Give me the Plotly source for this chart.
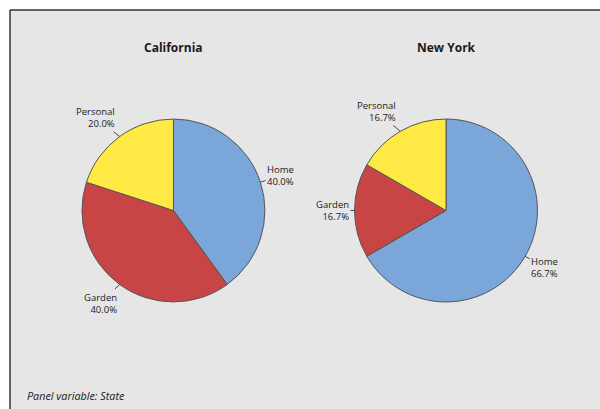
import math
import plotly.graph_objects as go

# ---- data ----
states = ["California", "New York"]
categories = ["Home", "Garden", "Personal"]
california_counts = [2, 2, 1]
newyork_counts = [4, 1, 1]
colors = ["#7BA6D9", "#C84545", "#FFE945"]
panel_note = "Panel variable: State"

W, H = 600, 409
ML, MT = 10, 10
PW, PH = W - ML, H - MT

# pie domains (paper fractions)
domains = [
    dict(x=[0.122, 0.432], y=[0.1975, 0.7975]),
    dict(x=[0.584, 0.894], y=[0.1975, 0.7975]),
]
series = [california_counts, newyork_counts]

fig = go.Figure()
annotations = []
font_family = "Open Sans, Noto Sans, DejaVu Sans, sans-serif"

for state, vals, dom in zip(states, series, domains):
    fig.add_trace(go.Pie(
        labels=categories, values=vals, sort=False, direction="clockwise",
        rotation=0, textinfo="none", hoverinfo="label+percent",
        marker=dict(colors=colors, line=dict(color="#555555", width=1)),
        domain=dom, showlegend=False,
    ))
    cx = (dom["x"][0] + dom["x"][1]) / 2
    cy = (dom["y"][0] + dom["y"][1]) / 2
    r_px = min((dom["x"][1] - dom["x"][0]) * PW, (dom["y"][1] - dom["y"][0]) * PH) / 2
    total = sum(vals)
    start = 0.0
    for cat, v in zip(categories, vals):
        frac = v / total
        mid = (start + frac / 2) * 2 * math.pi
        start += frac
        s, c = math.sin(mid), math.cos(mid)
        hx = cx + r_px * s / PW
        hy = cy + r_px * c / PH
        pct = f"{frac * 100:.1f}%"
        w = max(4.7 * len(cat), 25)
        L = 6
        sgn = 1 if s > 0 else -1
        ax = L * s + sgn * (w / 2 + 2)
        ay = -L * c - 17 * c
        annotations.append(dict(
            x=hx, y=hy, xref="paper", yref="paper",
            text=f"{cat}<br>{pct}", showarrow=True, arrowhead=0,
            arrowwidth=0.8, arrowcolor="#222222", standoff=0,
            ax=ax, ay=ay, align="left" if s > 0 else "right",
            font=dict(size=9.5, color="#222222", family=font_family),
        ))
    annotations.append(dict(
        x=cx, y=(H - 47) / PH, xref="paper", yref="paper", text=f"<b>{state}</b>",
        showarrow=False, xanchor="center", yanchor="middle",
        font=dict(size=12, color="#1a1a1a", family=font_family),
    ))

annotations.append(dict(
    x=(25 - ML) / PW, y=(H - 395) / PH, xref="paper", yref="paper",
    text=f"<i>{panel_note}</i>", showarrow=False, xanchor="left", yanchor="middle",
    font=dict(size=10.8, color="#1a1a1a", family=font_family),
))

border = dict(color="#333333", width=1.5)
fig.update_layout(
    width=W, height=H,
    margin=dict(l=ML, r=0, t=MT, b=0, pad=0),
    paper_bgcolor="white",
    annotations=annotations,
    shapes=[
        dict(type="rect", xref="paper", yref="paper", x0=0, y0=-0.002, x1=1.002, y1=1,
             fillcolor="#E6E6E6", line=dict(width=0), layer="below"),
        dict(type="line", xref="paper", yref="paper", x0=0, y0=-0.002, x1=0, y1=1,
             line=border, layer="below"),
        dict(type="line", xref="paper", yref="paper", x0=0, y0=1, x1=1.002, y1=1,
             line=border, layer="below"),
    ],
)

fig.write_html(
    "out.html",
    config={"displayModeBar": False},
    post_script=(
        "document.body.style.margin='0';document.body.style.padding='0';"
        "document.body.style.overflow='hidden';"
        "document.documentElement.style.overflow='hidden';"
    ),
)
